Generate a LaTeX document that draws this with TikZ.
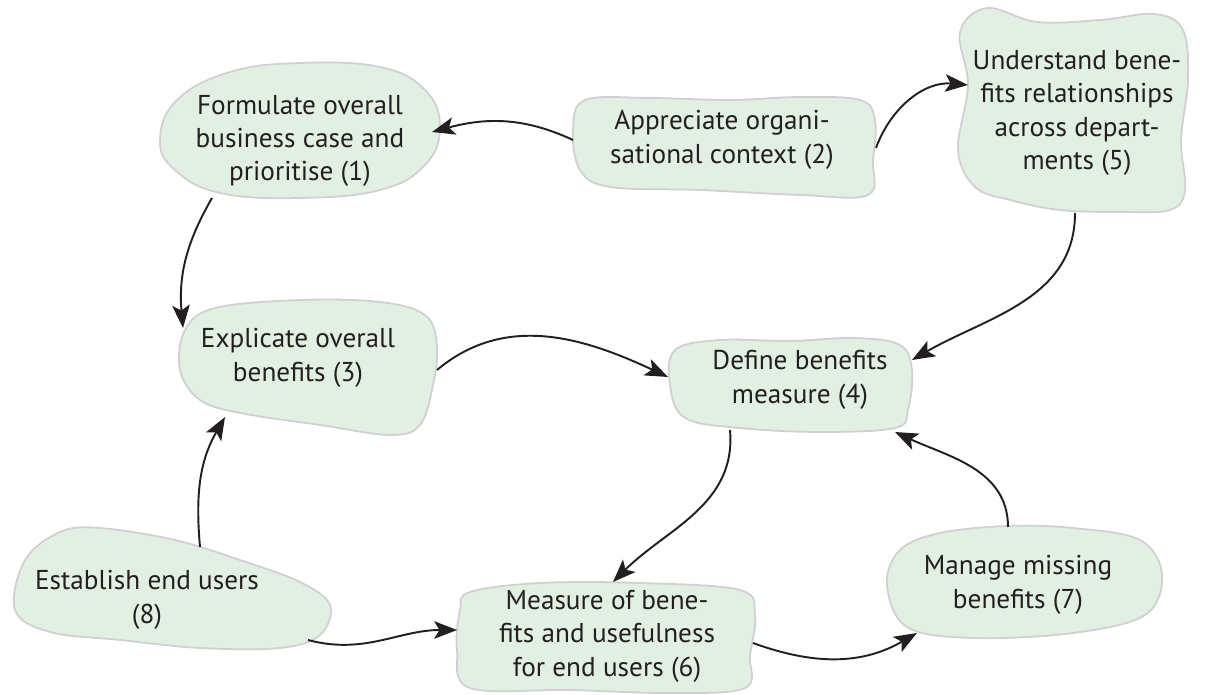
\documentclass[tikz,border=0pt]{standalone}
\usepackage{fontspec}
\setmainfont{PT Sans}
\usetikzlibrary{arrows.meta, calc}
\definecolor{BlobFill}{HTML}{E2EFE3}
\definecolor{BlobLine}{HTML}{D0D0D0}
\definecolor{Ink}{HTML}{231F20}

\begin{document}
\begin{tikzpicture}[
        x=0.2mm, y=0.2mm,
        blob/.style={fill=BlobFill, draw=BlobLine, line width=1pt},
        every node/.style={align=center, text=Ink, inner sep=0pt, font=\fontsize{15.5}{19}\selectfont},
        flow/.style={-{Stealth[length=13pt, width=10pt, inset=3pt]}, line width=1.1pt, draw=Ink}
    ]
    \useasboundingbox (0,0) rectangle (1218,695);

    % Blob 1
    \draw[blob] plot[smooth cycle, tension=0.7] coordinates {(177,595) (230,623) (300,632) (380,628) (425,605) (440,568) (425,530) (380,505) (300,497) (220,502) (175,525) (160,555)};
    % Blob 2
    \draw[blob] plot[smooth cycle, tension=0.6] coordinates {(585,595) (650,597) (730,595) (800,598) (860,595) (875,575) (873,535) (868,500) (800,500) (700,505) (610,508) (580,525) (573,565)};
    % Blob 5
    \draw[blob] plot[smooth cycle, tension=0.6] coordinates {(960,663) (987,687) (1037,673) (1100,675) (1155,681) (1183,665) (1188,615) (1181,555) (1185,505) (1170,485) (1120,483) (1060,485) (1010,495) (975,508) (958,545) (968,610)};
    % Blob 3
    \draw[blob] plot[smooth cycle, tension=0.6] coordinates {(185,365) (215,387) (300,395) (380,393) (425,380) (437,350) (433,310) (420,270) (390,260) (320,270) (240,282) (200,295) (180,325)};
    % Blob 4
    \draw[blob] plot[smooth cycle, tension=0.6] coordinates {(675,345) (720,355) (790,354) (855,357) (900,350) (912,325) (908,285) (895,267) (820,263) (740,267) (685,277) (670,310)};
    % Blob 8
    \draw[blob] plot[smooth cycle, tension=0.6] coordinates {(25,135) (60,163) (100,167) (175,155) (240,135) (300,113) (330,90) (320,60) (280,47) (200,47) (120,55) (50,63) (15,85)};
    % Blob 6
    \draw[blob] plot[smooth cycle, tension=0.6] coordinates {(470,103) (540,112) (640,112) (740,105) (755,80) (750,40) (745,7) (670,2) (570,5) (470,7) (457,45) (460,85)};
    % Blob 7
    \draw[blob] plot[smooth cycle, tension=0.6] coordinates {(940,162) (1007,169) (1073,167) (1140,155) (1162,120) (1145,80) (1073,62) (973,57) (907,68) (887,110) (900,145)};

    % Steps
    \node (formulate) at (300,554) {Formulate overall\\business case and\\prioritise (1)};
    \node (appreciate) at (722,555) {Appreciate organi-\\sational context (2)};
    \node (understand) at (1077,582) {Understand bene-\\fits relationships\\across depart-\\ments (5)};
    \node (explicate) at (298,337) {Explicate overall\\benefits (3)};
    \node (define) at (800,315) {Define benefits\\measure (4)};
    \node (establish) at (147,95) {Establish end users\\(8)};
    \node (measure) at (607,59) {Measure of bene-\\fits and usefulness\\for end users (6)};
    \node (manage) at (1018,110) {Manage missing\\benefits (7)};

    % Arrows
    \draw[flow] ($(appreciate)+(-149,0)$) to[out=155, in=15] ($(formulate)+(132,9)$);
    \draw[flow] ($(appreciate)+(154,-8)$) to[out=70, in=175] ($(understand)+(-109,28)$);
    \draw[flow] ($(formulate)+(-88,-57)$) to[out=-120, in=95] ($(explicate)+(-115,30)$);
    \draw[flow] ($(explicate)+(139,-12)$) to[out=40, in=155] ($(define)+(-132,3)$);
    \draw[flow] ($(understand)+(-2,-100)$) to[out=-90, in=30] ($(define)+(112,20)$);
    \draw[flow] ($(define)+(-70,-50)$) to[out=-85, in=45] ($(measure)+(6,54)$);
    \draw[flow] ($(establish)+(53,53)$) to[out=95, in=-120] ($(explicate)+(-73,-59)$);
    \draw[flow] ($(establish)+(161,-40)$) to[out=-15, in=180] ($(measure)+(-150,6)$);
    \draw[flow] ($(measure)+(146,-7)$) to[out=-20, in=210] ($(manage)+(-101,-48)$);
    \draw[flow] ($(manage)+(-10,58)$) to[out=90, in=-25] ($(define)+(95,-52)$);
\end{tikzpicture}
\end{document}
